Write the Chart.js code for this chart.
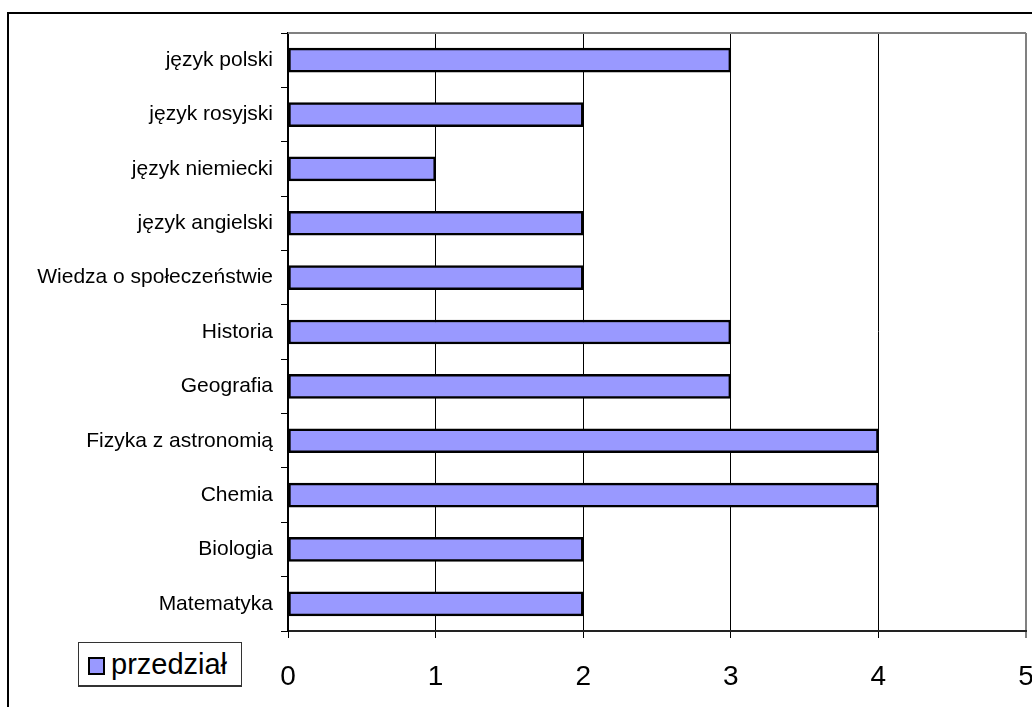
<!DOCTYPE html>
<html>
<head>
<meta charset="utf-8">
<script src="https://cdn.jsdelivr.net/npm/chart.js@4/dist/chart.umd.min.js"></script>
<style>
  html, body { margin: 0; padding: 0; background: #fff; overflow: hidden; width: 1032px; height: 707px; }
  #frame { position: absolute; left: 7px; top: 12px; width: 1100px; height: 800px; border-left: 2px solid #000; border-top: 2px solid #000; }
  #wrap { position: absolute; left: 0; top: 0; }
  #legend { position: absolute; left: 78px; top: 642px; width: 162px; height: 42px; border: 1px solid #333; border-bottom-width: 2px; background: #fff;
            font-family: "Liberation Sans", Arial, sans-serif; font-size: 29px; color: #000; display: flex; align-items: center; box-sizing: content-box; }
  #legend .sw { width: 13px; height: 14px; border: 2px solid #000; margin: 3px 6px 0 9px; }
</style>
</head>
<body>
<div id="frame"></div>
<div id="wrap"><canvas id="chart" width="1060" height="707"></canvas></div>
<div id="legend"></div>
<script>
// przedmioty od góry do dołu
const subjects = ['język polski', 'język rosyjski', 'język niemiecki', 'język angielski', 'Wiedza o społeczeństwie',
  'Historia', 'Geografia', 'Fizyka z astronomią', 'Chemia', 'Biologia', 'Matematyka'];
const przedzial = [3, 2, 1, 2, 2, 3, 3, 4, 4, 2, 2];
const seriesLabel = 'przedział';
const xTicks = [0, 1, 2, 3, 4, 5];

const barColor = '#9999FF';

// szara ramka u góry obszaru wykresu
const plotTop = {
    id: 'plotTop',
    beforeDatasetsDraw(chart) {
        const { ctx, chartArea } = chart;
        ctx.save();
        ctx.strokeStyle = '#808080';
        ctx.lineWidth = 2;
        ctx.beginPath();
        ctx.moveTo(chartArea.left, chartArea.top);
        ctx.lineTo(chartArea.right, chartArea.top);
        ctx.stroke();
        ctx.restore();
    }
};

const chart = new Chart(document.getElementById('chart').getContext('2d'), {
    type: 'bar',
    data: {
        labels: subjects,
        datasets: [{
            label: seriesLabel,
            data: przedzial,
            backgroundColor: barColor,
            borderColor: '#000',
            borderWidth: 2.5,
            borderSkipped: false,
            barThickness: 24
        }]
    },
    options: {
        indexAxis: 'y',
        responsive: false,
        animation: false,
        devicePixelRatio: 1,
        layout: { padding: { top: 33, right: 34, bottom: 0, left: 0 } },
        plugins: { legend: { display: false }, tooltip: { enabled: false } },
        scales: {
            x: {
                min: xTicks[0],
                max: xTicks[xTicks.length - 1],
                afterFit: s => { s.height = 76; },
                afterBuildTicks: s => { s.ticks = xTicks.map(v => ({ value: v })); },
                ticks: {
                    color: '#000',
                    padding: 22,
                    maxRotation: 0,
                    font: { family: '"Liberation Sans", Arial, sans-serif', size: 28 }
                },
                grid: {
                    color: c => c.tick && c.tick.value === 5 ? '#808080' : '#000',
                    lineWidth: c => c.tick && c.tick.value === 5 ? 2 : 1,
                    tickLength: 7
                },
                border: { color: '#222', width: 2 }
            },
            y: {
                afterFit: s => { s.width = 288; },
                ticks: {
                    color: '#000',
                    padding: 8,
                    font: { family: '"Liberation Sans", Arial, sans-serif', size: 21 }
                },
                grid: { drawOnChartArea: false, color: '#000', tickLength: 7, offset: true },
                border: { color: '#000', width: 2 }
            }
        }
    },
    plugins: [plotTop]
});

// legenda jak w Excelu
const legend = document.getElementById('legend');
chart.data.datasets.forEach(ds => {
    legend.innerHTML += `<div class="sw" style="background:${ds.backgroundColor}"></div><span>${ds.label}</span>`;
});
</script>
</body>
</html>
